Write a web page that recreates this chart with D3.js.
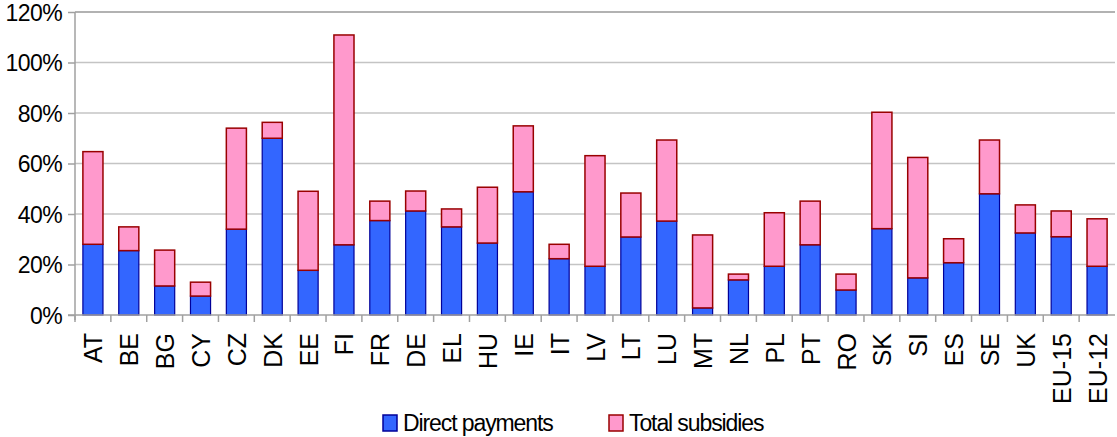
<!DOCTYPE html>
<html>
<head>
<meta charset="utf-8">
<script src="https://cdn.jsdelivr.net/npm/d3@7"></script>
<style>
    body { margin: 0; background: #fff; }
    svg { display: block; font-family: 'Liberation Sans', Arial, sans-serif; }
</style>
</head>
<body>
<div id="chart"></div>
<script>
// Chart data
const countries = ['AT', 'BE', 'BG', 'CY', 'CZ', 'DK', 'EE', 'FI', 'FR', 'DE', 'EL', 'HU', 'IE', 'IT',
    'LV', 'LT', 'LU', 'MT', 'NL', 'PL', 'PT', 'RO', 'SK', 'SI', 'ES', 'SE', 'UK', 'EU-15', 'EU-12'];
const directPayments = [28, 25.5, 11.5, 7.5, 34, 70, 17.7, 27.8, 37.4, 41.2, 34.9, 28.5, 48.8, 22.3,
    19.3, 30.9, 37.2, 2.8, 13.9, 19.3, 27.8, 9.9, 34.2, 14.7, 20.7, 48, 32.5, 31, 19.3];
const totalSubsidies = [64.7, 34.9, 25.7, 13, 74, 76.3, 49, 110.9, 45.1, 49.1, 42, 50.6, 74.9, 28,
    63.1, 48.3, 69.3, 31.7, 16.2, 40.5, 45.1, 16.2, 80.3, 62.4, 30.2, 69.3, 43.6, 41.2, 38.1];
const yTicks = [0, 20, 40, 60, 80, 100, 120];

const chartConfig = {
    width: 1117,
    height: 437,
    margin: { left: 75, right: 2, top: 12, bottom: 122 },
    colors: {
        direct: '#3366ff',
        directStroke: '#000099',
        total: '#ff99cc',
        totalStroke: '#990000',
        grid: '#c4c4c4',
        axis: '#a0a0a0'
    }
};

/**
 * Draws the stacked bar chart
 */
const drawChart = () => {
    const { width, height, margin, colors } = chartConfig;
    const x0 = margin.left;
    const x1 = width - margin.right;
    const yBottom = height - margin.bottom;

    const svg = d3.select('#chart').append('svg')
        .attr('width', width)
        .attr('height', height);

    const x = d3.scaleBand()
        .domain(countries)
        .range([x0, x1])
        .paddingInner(0.44)
        .paddingOuter(0.22);

    const y = d3.scaleLinear()
        .domain([0, 120])
        .range([yBottom, margin.top]);

    // gridlines
    svg.append('g')
        .selectAll('line')
        .data(yTicks.filter(d => d > 0))
        .enter()
        .append('line')
        .attr('x1', x0)
        .attr('x2', x1)
        .attr('y1', d => y(d))
        .attr('y2', d => y(d))
        .attr('stroke', d => d === 120 ? '#999' : colors.grid)
        .attr('stroke-width', 1.5);

    // y axis
    const yAxis = svg.append('g')
        .attr('transform', `translate(${x0},0)`)
        .call(d3.axisLeft(y).tickValues(yTicks).tickSize(7).tickPadding(6).tickFormat(d => d + '%'));
    yAxis.select('.domain').attr('stroke', colors.axis).attr('stroke-width', 1.5)
        .attr('d', `M0,${margin.top}V${yBottom + 5}`);
    yAxis.selectAll('.tick line').attr('stroke', colors.axis).attr('stroke-width', 1.5);
    yAxis.selectAll('.tick text')
        .style('font-size', '23px')
        .style('letter-spacing', '-0.6px')
        .attr('fill', '#000')
        .attr('dy', '0.36em');

    // bars
    const bars = svg.append('g')
        .selectAll('g')
        .data(countries)
        .enter()
        .append('g');

    bars.append('rect')
        .attr('x', d => x(d))
        .attr('width', x.bandwidth())
        .attr('y', (d, i) => y(directPayments[i]))
        .attr('height', (d, i) => y(0) - y(directPayments[i]))
        .attr('fill', colors.direct)
        .attr('stroke', colors.directStroke)
        .attr('stroke-width', 1.2);

    bars.append('rect')
        .attr('x', d => x(d))
        .attr('width', x.bandwidth())
        .attr('y', (d, i) => y(totalSubsidies[i]))
        .attr('height', (d, i) => y(directPayments[i]) - y(totalSubsidies[i]))
        .attr('fill', colors.total)
        .attr('stroke', colors.totalStroke)
        .attr('stroke-width', 1.5);

    // x axis
    const xAxis = svg.append('g')
        .attr('transform', `translate(0,${yBottom})`);
    xAxis.append('line')
        .attr('x1', x0 - 7)
        .attr('x2', x1)
        .attr('stroke', colors.axis)
        .attr('stroke-width', 1.5);
    xAxis.selectAll('.xtick')
        .data(countries)
        .enter()
        .append('line')
        .attr('class', 'xtick')
        .attr('x1', d => x(d) - x.step() * x.paddingInner() / 2)
        .attr('x2', d => x(d) - x.step() * x.paddingInner() / 2)
        .attr('y1', 0)
        .attr('y2', 7)
        .attr('stroke', colors.axis)
        .attr('stroke-width', 1.5);
    xAxis.selectAll('.xlabel')
        .data(countries)
        .enter()
        .append('text')
        .attr('class', 'xlabel')
        .attr('transform', d => `translate(${x(d) + x.bandwidth() / 2 + 0.5},18) rotate(-90)`)
        .attr('text-anchor', 'end')
        .attr('dy', '0.36em')
        .style('font-size', '25px')
        .text(d => d);

    // legend
    const legendItems = [
        { label: 'Direct payments', fill: colors.direct, stroke: colors.directStroke, x: 383 },
        { label: 'Total subsidies', fill: colors.total, stroke: colors.totalStroke, x: 609 }
    ];
    const legend = svg.append('g')
        .selectAll('g')
        .data(legendItems)
        .enter()
        .append('g')
        .attr('transform', d => `translate(${d.x},415)`);
    legend.append('rect')
        .attr('width', 14)
        .attr('height', 16)
        .attr('fill', d => d.fill)
        .attr('stroke', d => d.stroke)
        .attr('stroke-width', 1.5);
    legend.append('text')
        .attr('x', 20)
        .attr('y', 16)
        .style('font-size', '23px')
        .style('letter-spacing', '-1.1px')
        .text(d => d.label);
};

drawChart();
</script>
</body>
</html>
